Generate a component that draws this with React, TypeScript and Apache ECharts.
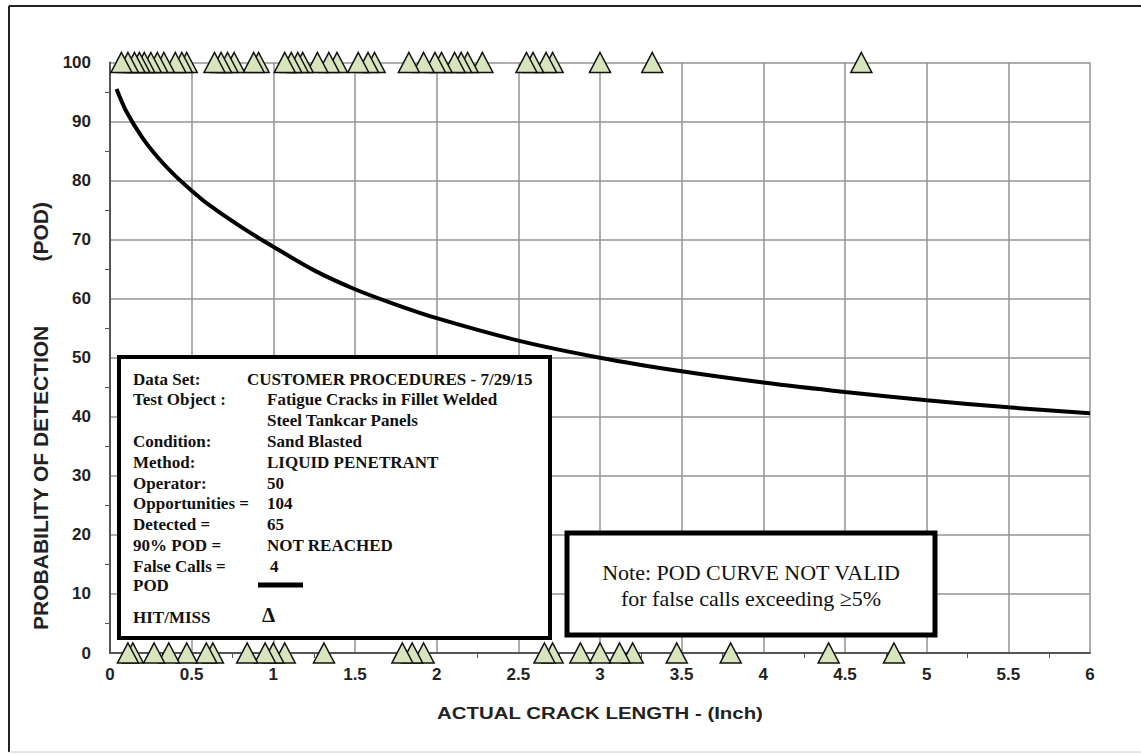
import React, { useEffect, useRef } from "react";
import * as echarts from "echarts";

// Crack lengths (inch) of the hit/miss inspection results
const hitLengths = [
  0.07, 0.11, 0.15, 0.18, 0.21, 0.25, 0.29, 0.33, 0.4, 0.44, 0.47,
  0.64, 0.68, 0.72, 0.76, 0.88, 0.91,
  1.07, 1.11, 1.15, 1.18, 1.27, 1.34, 1.39, 1.52, 1.58, 1.62,
  1.83, 1.92, 1.99, 2.03, 2.11, 2.15, 2.19, 2.28,
  2.55, 2.59, 2.67, 2.71,
  3.0, 3.32, 4.6,
];
const missLengths = [
  0.11, 0.14, 0.27, 0.36, 0.47, 0.59, 0.63, 0.84, 0.95, 1.0, 1.07, 1.31,
  1.79, 1.85, 1.92, 2.66, 2.71, 2.88, 3.0, 3.12, 3.2, 3.47, 3.8, 4.4, 4.8,
];

// Fitted POD curve
const podLengths = [0.04, 0.1, 0.2, 0.3, 0.4, 0.5, 0.6, 0.8, 1.0, 1.25, 1.5, 1.75, 2.0, 2.5, 3.0, 3.5, 4.0, 4.5, 5.0, 5.5, 6.0];
const podValues = [95.5, 91.7, 87.2, 83.7, 80.8, 78.3, 76.0, 72.2, 68.8, 64.8, 61.6, 59.0, 56.7, 52.9, 50.0, 47.7, 45.8, 44.2, 42.8, 41.6, 40.6];

const infoLabels = [
  "Data Set:", "Test Object :", "", "Condition:", "Method:", "Operator:",
  "Opportunities =", "Detected =", "90% POD =", "False Calls =",
];
const infoValues = [
  "CUSTOMER PROCEDURES - 7/29/15", "Fatigue Cracks in Fillet Welded", "Steel Tankcar Panels",
  "Sand Blasted", "LIQUID PENETRANT", "50", "104", "65", "NOT REACHED", "4",
];

const SANS = "'Liberation Sans', Arial, sans-serif";
const SERIF = "'Liberation Serif', 'Times New Roman', serif";
const TOP_Z = 100;

export default function App() {
  const ref = useRef<HTMLDivElement>(null);

  useEffect(() => {
    if (!ref.current) return;
    const chart = echarts.init(ref.current, null, { renderer: "svg" });

    const rowY = (i: number) => 379 + i * 20.8;
    const boxText = (x: number, y: number, text: string, size = 17) => ({
      type: "text", x, y, z: TOP_Z + 1,
      style: { text, font: `bold ${size}px ${SERIF}`, fill: "#111", verticalAlign: "middle" },
    });

    const infoTexts: any[] = [];
    infoLabels.forEach((t, i) => {
      if (t) infoTexts.push(boxText(133, rowY(i), t));
    });
    infoValues.forEach((t, i) => {
      infoTexts.push(boxText(i === 0 ? 247 : i === 9 ? 270 : 267, rowY(i), t));
    });

    const tickLabel = { fontFamily: SANS, fontWeight: "bold", fontSize: 17, color: "#222" };

    chart.setOption({
      animation: false,
      backgroundColor: "#fff",
      grid: { left: 110, top: 62.5, width: 980, height: 590.5, containLabel: false },
      xAxis: {
        type: "value", min: 0, max: 6, interval: 0.5,
        axisLine: { show: true, lineStyle: { color: "#555", width: 2 } },
        axisTick: { show: false },
        minorTick: { show: true, splitNumber: 2, length: 5, lineStyle: { color: "#555", width: 1 } },
        splitLine: { show: true, lineStyle: { color: "#939393", width: 1.5 } },
        axisLabel: { ...tickLabel, margin: 13 },
      },
      yAxis: {
        type: "value", min: 0, max: 100, interval: 10,
        axisLine: { show: true, lineStyle: { color: "#555", width: 2 } },
        axisTick: { show: false },
        minorTick: { show: true, splitNumber: 2, length: 5, lineStyle: { color: "#555", width: 1 } },
        splitLine: { show: true, lineStyle: { color: "#939393", width: 1.5 } },
        axisLabel: { ...tickLabel, margin: 19 },
      },
      series: [
        {
          type: "line",
          data: podLengths.map((x, i) => [x, podValues[i]]),
          smooth: 0.3,
          showSymbol: false,
          symbol: "none",
          lineStyle: { color: "#000", width: 4 },
          z: 3,
        },
        {
          type: "scatter",
          clip: false,
          data: hitLengths.slice().reverse().map((x) => [x, 100]),
          symbol: "triangle",
          symbolSize: [21, 20],
          itemStyle: { color: "#d8e4bc", borderColor: "#111", borderWidth: 1.5, opacity: 1 },
          z: 4,
        },
        {
          type: "scatter",
          clip: false,
          data: missLengths.slice().reverse().map((x) => [x, 0]),
          symbol: "triangle",
          symbolSize: [21, 20],
          itemStyle: { color: "#d8e4bc", borderColor: "#111", borderWidth: 1.5, opacity: 1 },
          z: 4,
        },
      ],
      graphic: [
        // frame around the figure
        { type: "line", shape: { x1: 9, y1: 6, x2: 1141, y2: 6 }, style: { stroke: "#222", lineWidth: 2 } },
        { type: "line", shape: { x1: 9, y1: 6, x2: 9, y2: 752 }, style: { stroke: "#222", lineWidth: 2 } },
        { type: "line", shape: { x1: 9, y1: 752, x2: 1141, y2: 752 }, style: { stroke: "#ccc", lineWidth: 1 } },
        {
          type: "text", x: 40, y: 416, rotation: Math.PI / 2,
          style: {
            text: "PROBABILITY OF DETECTION           (POD)", font: `bold 21px ${SANS}`, fill: "#222",
            align: "center", verticalAlign: "middle",
          },
        },
        {
          type: "text", x: 600, y: 713, scaleX: 1.2,
          style: {
            text: "ACTUAL CRACK LENGTH - (Inch)", font: `bold 17px ${SANS}`, fill: "#222",
            align: "center", verticalAlign: "middle",
          },
        },
        // data set information box
        {
          type: "rect", z: TOP_Z, shape: { x: 119, y: 357, width: 431, height: 281 },
          style: { fill: "#fff", stroke: "#000", lineWidth: 4 },
        },
        ...infoTexts,
        boxText(133, 585, "POD"),
        {
          type: "line", z: TOP_Z + 1, shape: { x1: 258, y1: 585, x2: 303, y2: 585 },
          style: { stroke: "#000", lineWidth: 5 },
        },
        boxText(133, 617, "HIT/MISS"),
        boxText(262, 615, "Δ", 21),
        // validity note
        {
          type: "rect", z: TOP_Z, shape: { x: 567, y: 533, width: 368, height: 102 },
          style: { fill: "#fff", stroke: "#000", lineWidth: 5 },
        },
        {
          type: "text", x: 751, y: 572, z: TOP_Z + 1,
          style: {
            text: "Note: POD CURVE NOT VALID", font: `22px ${SERIF}`, fill: "#111",
            align: "center", verticalAlign: "middle",
          },
        },
        {
          type: "text", x: 751, y: 598, z: TOP_Z + 1,
          style: {
            text: "for false calls exceeding ≥5%", font: `22px ${SERIF}`, fill: "#111",
            align: "center", verticalAlign: "middle",
          },
        },
      ],
    });

    return () => chart.dispose();
  }, []);

  return (
    <div style={{ position: "fixed", left: 0, top: 0, width: 1141, height: 754, background: "#fff" }}>
      <div ref={ref} style={{ width: 1141, height: 754 }} />
    </div>
  );
}
